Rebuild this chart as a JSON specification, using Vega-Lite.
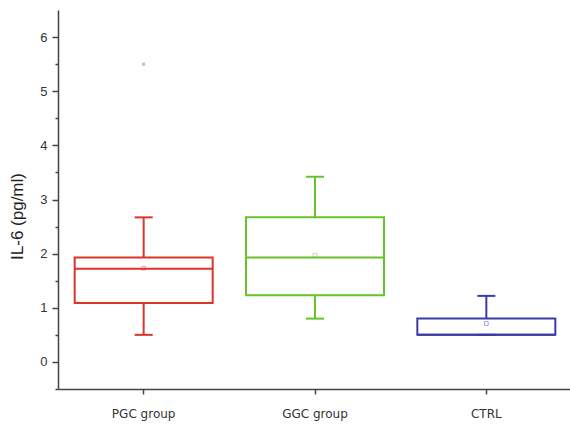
{
  "$schema": "https://vega.github.io/schema/vega-lite/v6.json",
  "width": 514,
  "height": 379,
  "autosize": {"type": "none"},
  "padding": {"left": 58, "top": 10, "right": 0, "bottom": 36},
  "background": "white",
  "config": {
    "view": {"stroke": null},
    "font": "Liberation Sans",
    "axis": {"grid": false, "domainColor": "#444", "domainWidth": 1.5, "tickColor": "#444", "tickWidth": 1.5, "labelColor": "#333", "titleColor": "#222"}
  },
  "data": {
    "values": [
      {"group": "PGC group", "lower": 0.5, "q1": 1.09, "median": 1.72, "q3": 1.93, "upper": 2.67, "mean": 1.73, "outlier": 5.5},
      {"group": "GGC group", "lower": 0.8, "q1": 1.23, "median": 1.93, "q3": 2.67, "upper": 3.42, "mean": 1.97, "outlier": null},
      {"group": "CTRL", "lower": 0.5, "q1": 0.5, "median": 0.5, "q3": 0.8, "upper": 1.22, "mean": 0.71, "outlier": null}
    ]
  },
  "encoding": {
    "x": {
      "field": "group", "type": "nominal", "sort": ["PGC group", "GGC group", "CTRL"],
      "scale": {"paddingInner": 0, "paddingOuter": 0},
      "axis": {"title": null, "labelAngle": 0, "labelFont": "DejaVu Sans", "labelFontSize": 12, "labelPadding": 14, "tickSize": 5, "domainWidth": 1.5}
    },
    "color": {
      "field": "group", "type": "nominal",
      "scale": {"domain": ["PGC group", "GGC group", "CTRL"], "range": ["#d9352b", "#66c42a", "#3c3aa6"]},
      "legend": null
    }
  },
  "layer": [
    {
      "mark": {"type": "rule", "strokeWidth": 2},
      "encoding": {
        "y": {"field": "lower", "type": "quantitative", "scale": {"domain": [-0.5, 6.5], "nice": false, "zero": false},
          "axis": {"orient": "left", "values": [0, 1, 2, 3, 4, 5, 6], "format": "d",
            "title": "IL-6 (pg/ml)", "titleFontSize": 17, "titleFontWeight": "normal", "titlePadding": 13, "titleY": 206, "labelFontSize": 13, "labelPadding": 5, "tickSize": 6}},
        "y2": {"field": "q1"}
      }
    },
    {
      "mark": {"type": "rule", "strokeWidth": 2},
      "encoding": {
        "y": {"field": "q3", "type": "quantitative",
          "axis": {"orient": "left", "values": [-0.5, 0.5, 1.5, 2.5, 3.5, 4.5, 5.5], "labels": false, "title": null, "domain": false, "tickSize": 3}},
        "y2": {"field": "upper"}
      }
    },
    {
      "mark": {"type": "bar", "size": 138, "fill": "white", "fillOpacity": 0, "strokeWidth": 2},
      "encoding": {
        "y": {"field": "q1", "type": "quantitative", "axis": null},
        "y2": {"field": "q3"},
        "stroke": {"field": "group", "type": "nominal", "scale": {"domain": ["PGC group", "GGC group", "CTRL"], "range": ["#d9352b", "#66c42a", "#3c3aa6"]}, "legend": null}
      }
    },
    {
      "mark": {"type": "tick", "size": 138, "thickness": 2, "opacity": 1},
      "encoding": {"y": {"field": "median", "type": "quantitative", "axis": null}}
    },
    {
      "mark": {"type": "tick", "size": 18, "thickness": 2, "opacity": 1},
      "encoding": {"y": {"field": "upper", "type": "quantitative", "axis": null}}
    },
    {
      "mark": {"type": "tick", "size": 18, "thickness": 2, "opacity": 1},
      "encoding": {"y": {"field": "lower", "type": "quantitative", "axis": null}}
    },
    {
      "mark": {"type": "point", "shape": "square", "size": 14, "filled": false, "strokeWidth": 1, "opacity": 0.45},
      "encoding": {"y": {"field": "mean", "type": "quantitative", "axis": null}}
    },
    {
      "transform": [{"filter": "datum.outlier != null"}],
      "mark": {"type": "point", "shape": "square", "size": 10, "filled": true, "opacity": 0.4},
      "encoding": {"y": {"field": "outlier", "type": "quantitative", "axis": null}}
    }
  ],
  "resolve": {"axis": {"y": "independent"}}
}
